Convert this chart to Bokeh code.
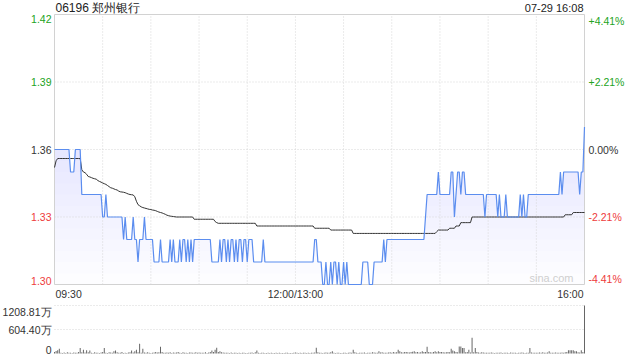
import numpy as np
from bokeh.plotting import figure
from bokeh.models import Range1d
from bokeh.core.properties import value
from bokeh.embed import file_html
from bokeh.resources import INLINE

# ---------------- data ----------------
title_text = "06196 郑州银行"
stamp_text = "07-29 16:08"
watermark = "sina.com"
prev_close = 1.36

price_ticks = [1.30, 1.33, 1.36, 1.39, 1.42]
price_tick_labels = ["1.30", "1.33", "1.36", "1.39", "1.42"]
pct_tick_labels = ["-4.41%", "-2.21%", "0.00%", "+2.21%", "+4.41%"]
time_tick_minutes = [0, 150, 330]
time_tick_labels = ["09:30", "12:00/13:00", "16:00"]
grid_minutes = [30, 60, 90, 120, 150, 180, 210, 240, 270, 300]
vol_ticks = [0, 604.40, 1208.81]
vol_tick_labels = ["0", "604.40万", "1208.81万"]

minutes = list(range(331))  # trading minutes since 09:30 (lunch removed)

price = [
    1.36, 1.36, 1.36, 1.36, 1.36, 1.36, 1.36, 1.36, 1.36, 1.36, 1.35, 1.35, 1.35, 1.36, 1.36,
    1.36, 1.36, 1.34, 1.34, 1.34, 1.34, 1.34, 1.34, 1.34, 1.34, 1.34, 1.34, 1.34, 1.34, 1.34,
    1.33, 1.33, 1.34, 1.33, 1.33, 1.33, 1.33, 1.33, 1.33, 1.33, 1.33, 1.33, 1.33, 1.32, 1.33,
    1.32, 1.32, 1.32, 1.32, 1.33, 1.32, 1.32, 1.31, 1.32, 1.32, 1.32, 1.33, 1.32, 1.32, 1.32,
    1.32, 1.32, 1.31, 1.31, 1.31, 1.31, 1.32, 1.31, 1.31, 1.31, 1.31, 1.31, 1.32, 1.31, 1.32,
    1.31, 1.31, 1.31, 1.32, 1.31, 1.32, 1.32, 1.31, 1.32, 1.31, 1.32, 1.31, 1.32, 1.32, 1.32,
    1.32, 1.32, 1.32, 1.32, 1.32, 1.32, 1.32, 1.32, 1.31, 1.31, 1.31, 1.31, 1.31, 1.32, 1.31,
    1.32, 1.32, 1.31, 1.32, 1.31, 1.32, 1.32, 1.31, 1.32, 1.31, 1.32, 1.32, 1.31, 1.32, 1.32,
    1.31, 1.32, 1.32, 1.32, 1.31, 1.31, 1.31, 1.31, 1.31, 1.31, 1.32, 1.31, 1.31, 1.31, 1.31,
    1.31, 1.31, 1.31, 1.31, 1.31, 1.31, 1.31, 1.31, 1.31, 1.31, 1.31, 1.31, 1.31, 1.31, 1.31,
    1.31, 1.31, 1.31, 1.31, 1.31, 1.31, 1.31, 1.31, 1.31, 1.31, 1.31, 1.31, 1.32, 1.32, 1.31,
    1.31, 1.31, 1.30, 1.30, 1.31, 1.30, 1.30, 1.31, 1.30, 1.31, 1.31, 1.30, 1.31, 1.30, 1.30,
    1.31, 1.30, 1.31, 1.30, 1.30, 1.30, 1.30, 1.30, 1.30, 1.30, 1.30, 1.30, 1.31, 1.31, 1.31,
    1.31, 1.30, 1.30, 1.30, 1.31, 1.31, 1.31, 1.31, 1.31, 1.31, 1.32, 1.31, 1.32, 1.32, 1.32,
    1.32, 1.32, 1.32, 1.32, 1.32, 1.32, 1.32, 1.32, 1.32, 1.32, 1.32, 1.32, 1.32, 1.32, 1.32,
    1.32, 1.32, 1.32, 1.32, 1.32, 1.32, 1.33, 1.34, 1.34, 1.34, 1.34, 1.34, 1.34, 1.34, 1.35,
    1.34, 1.34, 1.34, 1.34, 1.34, 1.34, 1.34, 1.35, 1.35, 1.33, 1.34, 1.35, 1.35, 1.34, 1.35,
    1.35, 1.34, 1.34, 1.34, 1.34, 1.34, 1.34, 1.34, 1.34, 1.34, 1.34, 1.34, 1.34, 1.33, 1.34,
    1.34, 1.34, 1.34, 1.34, 1.34, 1.34, 1.33, 1.34, 1.33, 1.33, 1.33, 1.34, 1.33, 1.33, 1.33,
    1.33, 1.33, 1.33, 1.33, 1.33, 1.34, 1.33, 1.34, 1.33, 1.33, 1.34, 1.34, 1.34, 1.34, 1.34,
    1.34, 1.34, 1.34, 1.34, 1.34, 1.34, 1.34, 1.34, 1.34, 1.34, 1.34, 1.34, 1.34, 1.34, 1.34,
    1.35, 1.34, 1.35, 1.35, 1.35, 1.35, 1.35, 1.35, 1.35, 1.35, 1.35, 1.35, 1.34, 1.35, 1.35,
    1.37,
]

avg_price = [
    1.352, 1.355, 1.356, 1.356, 1.356, 1.356, 1.356, 1.356, 1.356, 1.356, 1.356, 1.356, 1.356, 1.356, 1.356,
    1.356, 1.356, 1.351, 1.350, 1.3497, 1.349, 1.348, 1.3478, 1.3475, 1.3472, 1.347, 1.3468, 1.3462, 1.3458, 1.3455,
    1.3451, 1.3448, 1.3445, 1.344, 1.3435, 1.343, 1.3428, 1.3425, 1.3422, 1.342, 1.3415, 1.3412, 1.3411, 1.341, 1.3408,
    1.3405, 1.3402, 1.340, 1.3399, 1.3398, 1.339, 1.337, 1.3355, 1.335, 1.3345, 1.3342, 1.334, 1.3338, 1.3336, 1.3334,
    1.3333, 1.3331, 1.333, 1.3328, 1.3325, 1.3322, 1.332, 1.3318, 1.3315, 1.3312, 1.3308, 1.3306, 1.3304, 1.3303, 1.3302,
    1.3301, 1.330, 1.330, 1.330, 1.330, 1.330, 1.330, 1.330, 1.330, 1.330, 1.330, 1.330, 1.329, 1.329, 1.329,
    1.329, 1.329, 1.329, 1.329, 1.329, 1.329, 1.329, 1.329, 1.329, 1.329, 1.328, 1.3275, 1.3272, 1.3272, 1.3272,
    1.3272, 1.3272, 1.3272, 1.3272, 1.3272, 1.3272, 1.3272, 1.3272, 1.3272, 1.3272, 1.3272, 1.3272, 1.3272, 1.3272, 1.3272,
    1.3272, 1.3272, 1.3272, 1.3272, 1.3272, 1.3272, 1.326, 1.326, 1.326, 1.326, 1.326, 1.326, 1.326, 1.326, 1.326,
    1.326, 1.326, 1.326, 1.326, 1.326, 1.326, 1.326, 1.326, 1.326, 1.326, 1.326, 1.326, 1.326, 1.326, 1.326,
    1.326, 1.326, 1.326, 1.326, 1.326, 1.326, 1.326, 1.326, 1.326, 1.326, 1.326, 1.326, 1.325, 1.325, 1.325,
    1.325, 1.325, 1.325, 1.325, 1.325, 1.325, 1.325, 1.3242, 1.3242, 1.3242, 1.3242, 1.3242, 1.3242, 1.3242, 1.3242,
    1.3242, 1.3242, 1.3242, 1.3242, 1.3242, 1.3242, 1.3227, 1.3227, 1.3227, 1.3227, 1.3227, 1.3227, 1.3227, 1.3227, 1.3227,
    1.3227, 1.3227, 1.3227, 1.3227, 1.3227, 1.3227, 1.3227, 1.3227, 1.3227, 1.3227, 1.3227, 1.3227, 1.3227, 1.3227, 1.3227,
    1.3227, 1.3227, 1.3227, 1.3227, 1.3227, 1.3227, 1.3227, 1.3227, 1.3227, 1.3227, 1.3227, 1.3227, 1.3227, 1.3227, 1.3227,
    1.3227, 1.3227, 1.3227, 1.3227, 1.3227, 1.3227, 1.3227, 1.3227, 1.3227, 1.3227, 1.3227, 1.3227, 1.3227, 1.3235, 1.3242,
    1.3242, 1.3242, 1.3242, 1.3242, 1.3242, 1.3242, 1.325, 1.325, 1.325, 1.325, 1.326, 1.326, 1.326, 1.3275, 1.3275,
    1.3275, 1.3275, 1.3275, 1.3275, 1.3275, 1.330, 1.330, 1.330, 1.330, 1.330, 1.330, 1.330, 1.330, 1.330, 1.330,
    1.330, 1.330, 1.330, 1.330, 1.330, 1.330, 1.330, 1.330, 1.330, 1.330, 1.330, 1.330, 1.330, 1.330, 1.330,
    1.330, 1.330, 1.330, 1.330, 1.330, 1.330, 1.330, 1.330, 1.330, 1.330, 1.330, 1.330, 1.330, 1.330, 1.330,
    1.330, 1.330, 1.330, 1.330, 1.330, 1.330, 1.330, 1.330, 1.330, 1.330, 1.330, 1.330, 1.330, 1.330, 1.330,
    1.330, 1.330, 1.330, 1.331, 1.331, 1.331, 1.331, 1.331, 1.332, 1.332, 1.332, 1.332, 1.332, 1.332, 1.332,
    1.332,
]

# volume per minute, in 万 shares
volume = [
    40, 60, 81, 122, 20, 15, 25, 10, 30, 18, 22, 12, 28, 16, 20, 35, 138, 30, 97, 25, 81, 30, 73, 20, 15, 30, 22, 18, 12, 25,
    40, 138, 20, 15, 30, 25, 20, 57, 73, 30, 18, 22, 35, 15, 20, 12, 28, 30, 73, 25, 57, 97, 30, 244, 20, 122, 25, 18, 30, 22,
    15, 20, 28, 35, 25, 30, 171, 40, 20, 18, 25, 22, 30, 15, 28, 20, 25, 35, 18, 12, 30, 22, 20, 15, 25, 28, 18, 20, 30, 22,
    25, 20, 18, 22, 30, 15, 28, 40, 73, 35, 97, 146, 40, 57, 30, 25, 20, 18, 22, 15, 25, 12, 20, 18, 15, 22, 10, 18, 20, 12,
    15, 20, 18, 25, 12, 30, 73, 20, 15, 18, 22, 12, 15, 20, 10, 18, 15, 12, 20, 15, 18, 10, 12, 15, 20, 18, 12, 15, 10, 20,
    25, 18, 15, 20, 12, 22, 18, 15, 20, 12, 18, 22, 25, 146, 30, 20, 18, 15, 22, 25, 20, 18, 30, 57, 20, 15, 18, 22, 12, 15,
    20, 18, 15, 22, 25, 20, 97, 30, 18, 15, 20, 22, 18, 25, 15, 20, 18, 22, 30, 25, 20, 18, 57, 25, 30, 20, 18, 22, 25, 30,
    20, 35, 25, 30, 97, 57, 30, 25, 40, 35, 30, 25, 40, 45, 57, 30, 35, 25, 30, 57, 35, 40, 171, 35, 30, 25, 40, 57, 30, 57,
    35, 40, 30, 25, 30, 35, 30, 122, 73, 57, 40, 30, 179, 179, 138, 138, 30, 40, 97, 25, 398, 30, 138, 35, 25, 20, 30, 25, 18, 20,
    22, 18, 25, 20, 15, 22, 18, 20, 25, 15, 18, 22, 20, 15, 25, 18, 20, 22, 15, 18, 20, 25, 18, 15, 22, 20, 138, 25, 18, 20,
    22, 18, 25, 20, 30, 22, 18, 25, 57, 20, 18, 22, 25, 20, 18, 22, 25, 20, 30, 35, 81, 81, 81, 81, 57, 57, 30, 25, 81, 40,
    1208.81,
]

assert len(price) == 331, len(price)
assert len(avg_price) == 331, len(avg_price)
assert len(volume) == 331, len(volume)

# ---------------- layout (pixel geometry of the panels) ----------------
W, H = 640, 360
PX_L, PX_R = 54, 584          # price/volume panel left and right edges
PX_PT, PX_PB = 14, 284        # price panel top / bottom
PX_VT, PX_VB = 305, 353       # volume panel top / bottom

t0, t1 = minutes[0], minutes[-1]
p_lo, p_hi = price_ticks[0], price_ticks[-1]
v_hi = vol_ticks[-1]

xs = (PX_R - PX_L) / (t1 - t0)
x_range = Range1d(t0 - PX_L / xs, t1 + (W - PX_R) / xs)
ys = (PX_PB - PX_PT) / (p_hi - p_lo)
y_range = Range1d(p_lo - (H - PX_PB) / ys, p_hi + PX_PT / ys)
vs = (PX_VB - PX_VT) / v_hi
v_range = Range1d(0 - (H - PX_VB) / vs, v_hi + PX_VT / vs)

FONT = "Liberation Sans"
GREEN = "#22a322"
RED = "#ee3b3b"
DARK = "#333333"
GRID = "#d6d6d6"
TICK_SIZE = "10.5px"
label_colors = [RED, RED, DARK, GREEN, GREEN]

p = figure(width=W, height=H, output_backend="svg", toolbar_location=None,
           x_axis_location=None, y_axis_location=None,
           x_range=x_range, y_range=y_range,
           min_border=0, min_border_left=0, min_border_right=0,
           min_border_top=0, min_border_bottom=0)
p.extra_y_ranges = {"vol": v_range}
p.grid.visible = False
p.outline_line_color = None
p.background_fill_color = "white"
p.border_fill_color = "white"

# ---- price panel ----
pr = np.array(price)
for lvl in np.arange(p_lo, 1.375, 0.005):
    p.varea(x=minutes, y1=np.full(len(pr), lvl), y2=np.maximum(pr, lvl),
            fill_color="#6e9ee8", fill_alpha=0.017)

# dotted grid lines
p.segment(x0=grid_minutes, y0=[p_lo] * len(grid_minutes), x1=grid_minutes, y1=[p_hi] * len(grid_minutes),
          line_color=GRID, line_width=1, line_dash="1 2")
mid_ticks = price_ticks[1:4]
p.segment(x0=[t0] * 3, y0=mid_ticks, x1=[t1] * 3, y1=mid_ticks,
          line_color=GRID, line_width=1, line_dash="1 2")
# panel frame
p.quad(left=[t0], right=[t1], bottom=[p_lo], top=[p_hi], fill_color=None,
       line_color="#d2d2d2", line_width=1)

p.line(minutes, avg_price, line_color=DARK, line_width=1)
p.line(minutes, price, line_color="#5b8def", line_width=1.2)


def txt(x, y, text, align, baseline, color=DARK, size=TICK_SIZE, xo=0, yo=0, yname="default"):
    p.text(x=[x], y=[y], text=[text], text_align=align, text_baseline=baseline,
           text_color=color, text_font=value(FONT), text_font_size=value(size),
           x_offset=xo, y_offset=yo, y_range_name=yname)


for v, t, c in zip(price_ticks, price_tick_labels, label_colors):
    base = "top" if v == p_hi else ("bottom" if v == p_lo else "middle")
    txt(t0, v, t, "right", base, c, xo=-3)
for v, t, c in zip(price_ticks, pct_tick_labels, label_colors):
    base = "top" if v == p_hi else ("bottom" if v == p_lo else "middle")
    txt(t1, v, t, "left", base, c, xo=4)

for m, t in zip(time_tick_minutes, time_tick_labels):
    a = "left" if m == t0 else ("right" if m == t1 else "center")
    txt(m, p_lo, t, a, "middle", DARK, xo=(1 if a == "left" else (-1 if a == "right" else 0)), yo=9)

txt(t0, p_hi, title_text, "left", "middle", "#222222", size="12px", xo=1, yo=-7)
txt(t1, p_hi, stamp_text, "right", "middle", "#222222", size="11px", xo=-1, yo=-7)
txt(t1, p_lo, watermark, "right", "bottom", "#cfcfcf", size="11px", xo=-11, yo=-1)

# ---- volume panel ----
vmid = vol_ticks[1:]
p.segment(x0=[t0] * 2, y0=vmid, x1=[t1] * 2, y1=vmid, line_color=GRID, line_width=1,
          line_dash="1 2", y_range_name="vol")
p.vbar(x=minutes, top=volume, bottom=0, width=0.62, fill_color="#666666", line_color=None,
       y_range_name="vol")
for val, t in zip(vol_ticks, vol_tick_labels):
    base = "top" if val == v_hi else ("bottom" if val == 0 else "middle")
    txt(t0, val, t, "right", base, DARK, xo=-3, yname="vol")

open("out.html", "w").write(file_html(p, INLINE))
